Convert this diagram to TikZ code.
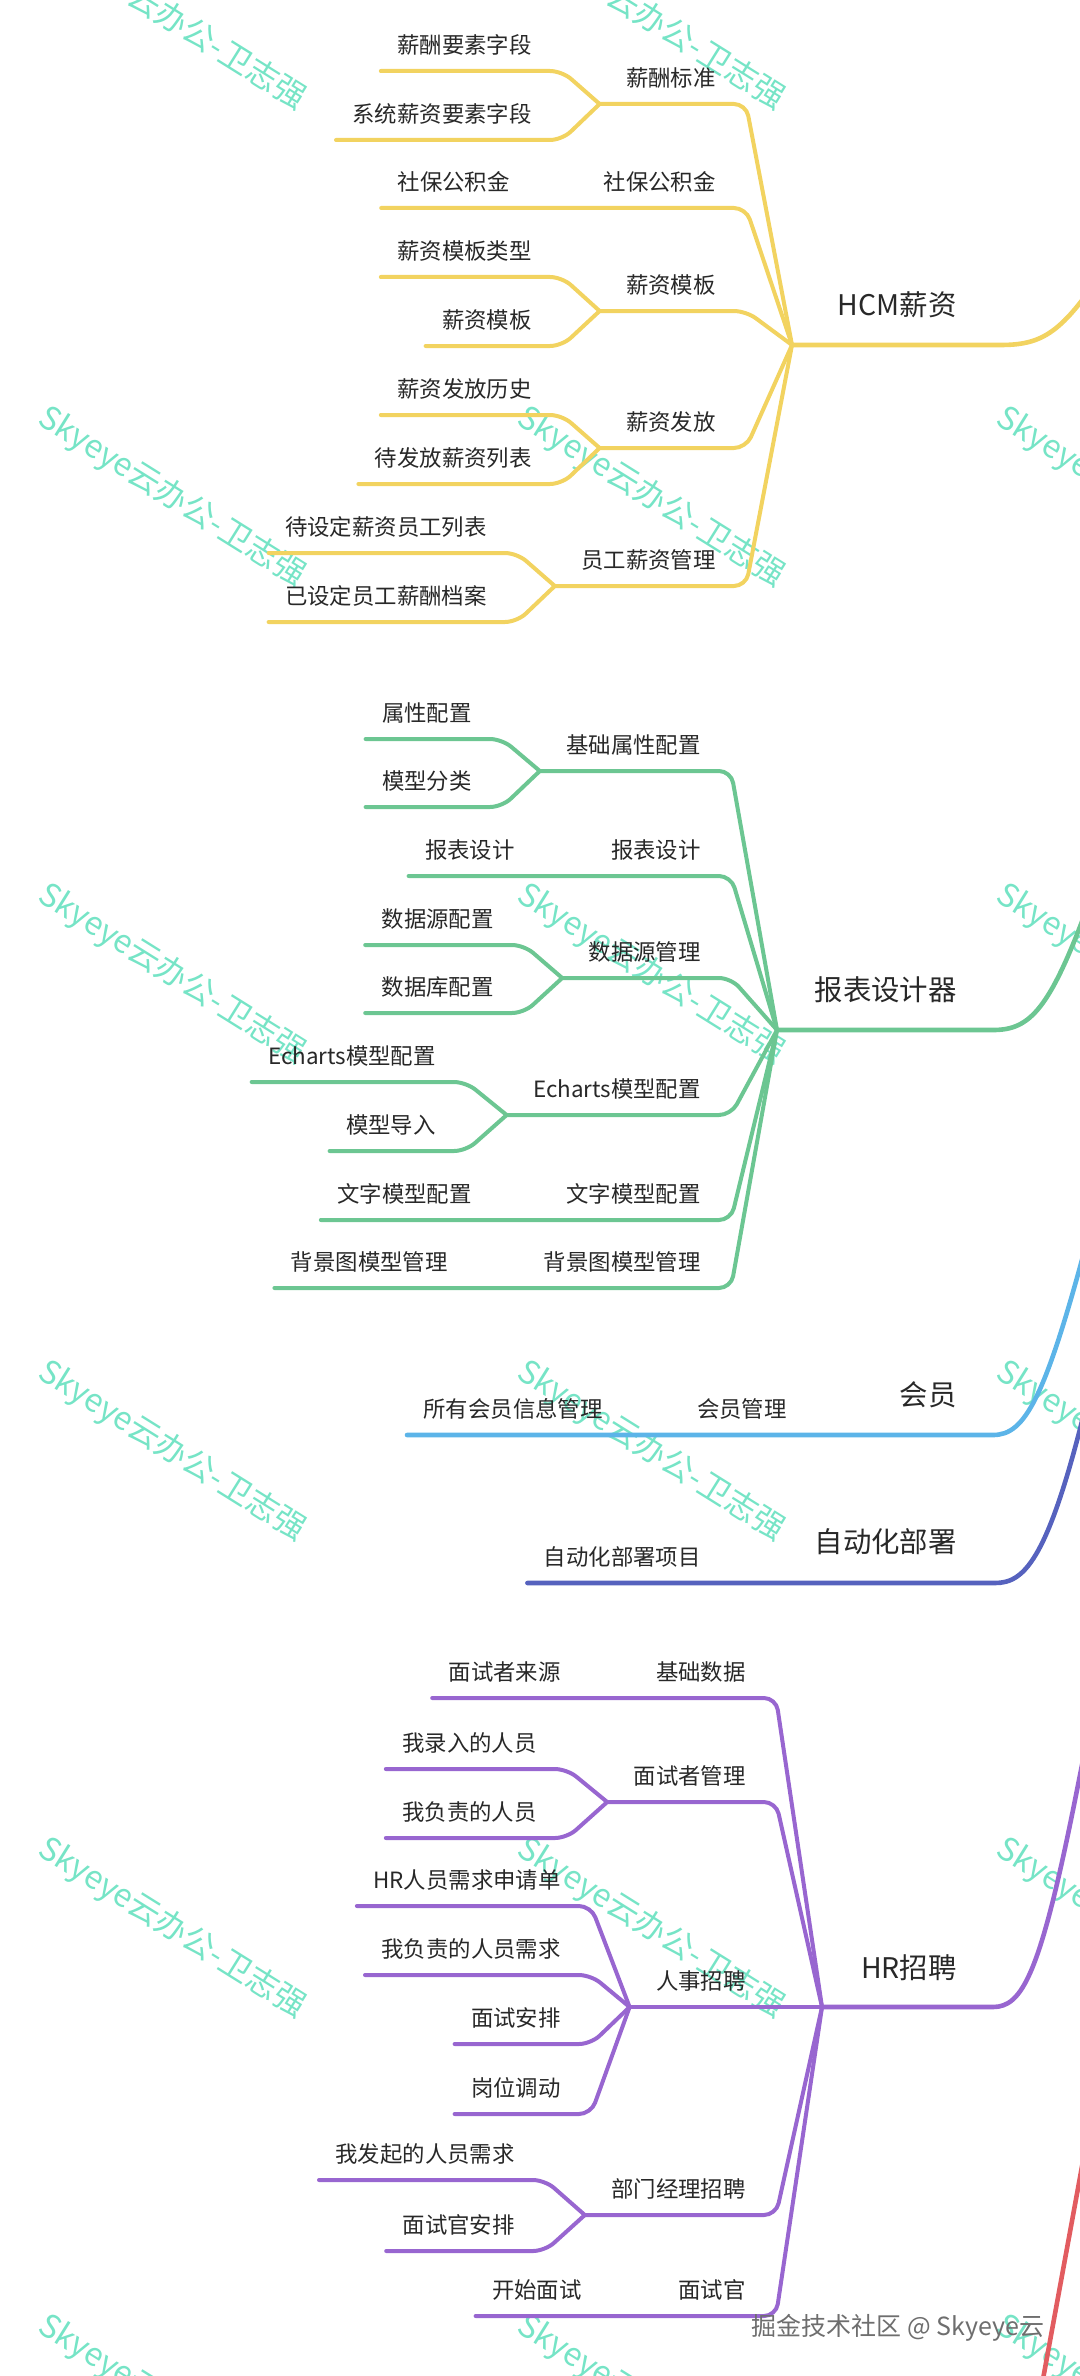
\documentclass[tikz,border=0pt]{standalone}
\usepackage{fontspec}
\setmainfont{Noto Sans CJK SC}
\usepackage{tikz}
\usetikzlibrary{calc}
\definecolor{hcmyellow}{RGB}{242,211,96}
\definecolor{rptgreen}{RGB}{108,198,146}
\definecolor{vipblue}{RGB}{92,180,232}
\definecolor{opsindigo}{RGB}{86,98,190}
\definecolor{hrpurple}{RGB}{152,102,208}
\definecolor{rootred}{RGB}{226,92,96}
\definecolor{wmmint}{RGB}{118,228,198}
\definecolor{labelink}{RGB}{40,40,40}

\begin{document}
\begin{tikzpicture}[x=0.5pt,y=-0.5pt,
    leaf/.style={anchor=east,inner sep=0pt,text=labelink,font=\fontsize{11.2}{13}\selectfont},
    topic/.style={anchor=east,inner sep=0pt,text=labelink,font=\fontsize{14.2}{17}\selectfont},
    wmark/.style={rotate=-32,inner sep=0pt,text=wmmint,font=\fontsize{16}{19}\selectfont},
    br/.style={line width=2pt,line cap=round,rounded corners=6pt},
    trunk/.style={line width=2.3pt,line cap=round}
  ]
  \useasboundingbox (0,0) rectangle (1080,2376);
  \clip (0,0) rectangle (1080,2376);

  % watermarks
  \node[wmark] (wm11) at (172,20) {Skyeye云办公-卫志强};
  \node[wmark] (wm12) at (651,20) {Skyeye云办公-卫志强};
  \node[wmark] (wm21) at (172,497) {Skyeye云办公-卫志强};
  \node[wmark] (wm22) at (651,497) {Skyeye云办公-卫志强};
  \node[wmark] (wm23) at (1130,497) {Skyeye云办公-卫志强};
  \node[wmark] (wm31) at (172,974) {Skyeye云办公-卫志强};
  \node[wmark] (wm32) at (651,974) {Skyeye云办公-卫志强};
  \node[wmark] (wm33) at (1130,974) {Skyeye云办公-卫志强};
  \node[wmark] (wm41) at (172,1451) {Skyeye云办公-卫志强};
  \node[wmark] (wm42) at (651,1451) {Skyeye云办公-卫志强};
  \node[wmark] (wm43) at (1130,1451) {Skyeye云办公-卫志强};
  \node[wmark] (wm51) at (172,1928) {Skyeye云办公-卫志强};
  \node[wmark] (wm52) at (651,1928) {Skyeye云办公-卫志强};
  \node[wmark] (wm53) at (1130,1928) {Skyeye云办公-卫志强};
  \node[wmark] (wm61) at (172,2405) {Skyeye云办公-卫志强};
  \node[wmark] (wm62) at (651,2405) {Skyeye云办公-卫志强};
  \node[wmark] (wm63) at (1130,2405) {Skyeye云办公-卫志强};

  % HCM薪资
  \coordinate (hcm) at (792,345);
  \coordinate (hcmEnd) at (1100,275);
  \node[topic] (hcmT) at (957,305) {HCM薪资};
  \draw[trunk,hcmyellow] (hcm) -- (1000,345) .. controls (1040,345) and (1060,335) .. (hcmEnd);

  \node[leaf] (xcbz) at (716,78) {薪酬标准};
  \coordinate (xcbzJ) at ([xshift=-13pt,yshift=-13pt]xcbz.west);
  \node[leaf] (xcys) at (532,45) {薪酬要素字段};
  \node[leaf] (xtys) at (532,114) {系统薪资要素字段};
  \draw[br,hcmyellow] ([xshift=-8pt,yshift=-13pt]xcys.west) -- ([xshift=15pt,yshift=-13pt]xcys.east) -- (xcbzJ);
  \draw[br,hcmyellow] ([xshift=-8pt,yshift=-13pt]xtys.west) -- ([xshift=15pt,yshift=-13pt]xtys.east) -- (xcbzJ);
  \draw[br,hcmyellow] (xcbzJ) -- ([xshift=15pt,yshift=-13pt]xcbz.east) -- (hcm);

  \node[leaf] (sbgjj) at (716,182) {社保公积金};
  \node[leaf] (sbgjjL) at (510,182) {社保公积金};
  \draw[br,hcmyellow] ([xshift=-8pt,yshift=-13pt]sbgjjL.west) -- ([xshift=15pt,yshift=-13pt]sbgjj.east) -- (hcm);

  \node[leaf] (xzmb) at (716,285) {薪资模板};
  \coordinate (xzmbJ) at ([xshift=-13pt,yshift=-13pt]xzmb.west);
  \node[leaf] (mblx) at (532,251) {薪资模板类型};
  \node[leaf] (xzmbL) at (532,320) {薪资模板};
  \draw[br,hcmyellow] ([xshift=-8pt,yshift=-13pt]mblx.west) -- ([xshift=15pt,yshift=-13pt]mblx.east) -- (xzmbJ);
  \draw[br,hcmyellow] ([xshift=-8pt,yshift=-13pt]xzmbL.west) -- ([xshift=15pt,yshift=-13pt]xzmbL.east) -- (xzmbJ);
  \draw[br,hcmyellow] (xzmbJ) -- ([xshift=15pt,yshift=-13pt]xzmb.east) -- (hcm);

  \node[leaf] (xzff) at (716,422) {薪资发放};
  \coordinate (xzffJ) at ([xshift=-13pt,yshift=-13pt]xzff.west);
  \node[leaf] (ffls) at (532,389) {薪资发放历史};
  \node[leaf] (dffl) at (532,458) {待发放薪资列表};
  \draw[br,hcmyellow] ([xshift=-8pt,yshift=-13pt]ffls.west) -- ([xshift=15pt,yshift=-13pt]ffls.east) -- (xzffJ);
  \draw[br,hcmyellow] ([xshift=-8pt,yshift=-13pt]dffl.west) -- ([xshift=15pt,yshift=-13pt]dffl.east) -- (xzffJ);
  \draw[br,hcmyellow] (xzffJ) -- ([xshift=15pt,yshift=-13pt]xzff.east) -- (hcm);

  \node[leaf] (ygxz) at (716,560) {员工薪资管理};
  \coordinate (ygxzJ) at ([xshift=-13pt,yshift=-13pt]ygxz.west);
  \node[leaf] (dsdy) at (487,527) {待设定薪资员工列表};
  \node[leaf] (ysdy) at (487,596) {已设定员工薪酬档案};
  \draw[br,hcmyellow] ([xshift=-8pt,yshift=-13pt]dsdy.west) -- ([xshift=15pt,yshift=-13pt]dsdy.east) -- (ygxzJ);
  \draw[br,hcmyellow] ([xshift=-8pt,yshift=-13pt]ysdy.west) -- ([xshift=15pt,yshift=-13pt]ysdy.east) -- (ygxzJ);
  \draw[br,hcmyellow] (ygxzJ) -- ([xshift=15pt,yshift=-13pt]ygxz.east) -- (hcm);

  % 报表设计器
  \coordinate (rpt) at (777,1030);
  \coordinate (rptEnd) at (1090,900);
  \node[topic] (rptT) at (957,990) {报表设计器};
  \draw[trunk,rptgreen] (rpt) -- (993,1030) .. controls (1030,1030) and (1050,1010) .. (rptEnd);

  \node[leaf] (jcsx) at (701,745) {基础属性配置};
  \coordinate (jcsxJ) at ([xshift=-13pt,yshift=-13pt]jcsx.west);
  \node[leaf] (sxpz) at (472,713) {属性配置};
  \node[leaf] (mxfl) at (472,781) {模型分类};
  \draw[br,rptgreen] ([xshift=-8pt,yshift=-13pt]sxpz.west) -- ([xshift=15pt,yshift=-13pt]sxpz.east) -- (jcsxJ);
  \draw[br,rptgreen] ([xshift=-8pt,yshift=-13pt]mxfl.west) -- ([xshift=15pt,yshift=-13pt]mxfl.east) -- (jcsxJ);
  \draw[br,rptgreen] (jcsxJ) -- ([xshift=15pt,yshift=-13pt]jcsx.east) -- (rpt);

  \node[leaf] (bbsj) at (701,850) {报表设计};
  \node[leaf] (bbsjL) at (515,850) {报表设计};
  \draw[br,rptgreen] ([xshift=-8pt,yshift=-13pt]bbsjL.west) -- ([xshift=15pt,yshift=-13pt]bbsj.east) -- (rpt);

  \node[leaf] (sjyg) at (701,952) {数据源管理};
  \coordinate (sjygJ) at ([xshift=-13pt,yshift=-13pt]sjyg.west);
  \node[leaf] (sjypz) at (494,919) {数据源配置};
  \node[leaf] (sjkpz) at (494,987) {数据库配置};
  \draw[br,rptgreen] ([xshift=-8pt,yshift=-13pt]sjypz.west) -- ([xshift=15pt,yshift=-13pt]sjypz.east) -- (sjygJ);
  \draw[br,rptgreen] ([xshift=-8pt,yshift=-13pt]sjkpz.west) -- ([xshift=15pt,yshift=-13pt]sjkpz.east) -- (sjygJ);
  \draw[br,rptgreen] (sjygJ) -- ([xshift=15pt,yshift=-13pt]sjyg.east) -- (rpt);

  \node[leaf] (echm) at (701,1089) {Echarts模型配置};
  \coordinate (echmJ) at ([xshift=-13pt,yshift=-13pt]echm.west);
  \node[leaf] (echmL) at (436,1056) {Echarts模型配置};
  \node[leaf] (mxdr) at (436,1125) {模型导入};
  \draw[br,rptgreen] ([xshift=-8pt,yshift=-13pt]echmL.west) -- ([xshift=15pt,yshift=-13pt]echmL.east) -- (echmJ);
  \draw[br,rptgreen] ([xshift=-8pt,yshift=-13pt]mxdr.west) -- ([xshift=15pt,yshift=-13pt]mxdr.east) -- (echmJ);
  \draw[br,rptgreen] (echmJ) -- ([xshift=15pt,yshift=-13pt]echm.east) -- (rpt);

  \node[leaf] (wzmx) at (701,1194) {文字模型配置};
  \node[leaf] (wzmxL) at (472,1194) {文字模型配置};
  \draw[br,rptgreen] ([xshift=-8pt,yshift=-13pt]wzmxL.west) -- ([xshift=15pt,yshift=-13pt]wzmx.east) -- (rpt);

  \node[leaf] (bjtm) at (701,1262) {背景图模型管理};
  \node[leaf] (bjtmL) at (448,1262) {背景图模型管理};
  \draw[br,rptgreen] ([xshift=-8pt,yshift=-13pt]bjtmL.west) -- ([xshift=15pt,yshift=-13pt]bjtm.east) -- (rpt);

  % 会员
  \coordinate (vipA) at (993,1435);
  \coordinate (vipEnd) at (1090,1230);
  \node[topic] (vipT) at (957,1395) {会员};
  \node[leaf] (hygl) at (787,1409) {会员管理};
  \node[leaf] (syhy) at (603,1409) {所有会员信息管理};
  \draw[trunk,vipblue] ([xshift=-8pt,yshift=-13pt]syhy.west) -- (vipA) .. controls (1025,1435) and (1045,1400) .. (vipEnd);

  % 自动化部署
  \coordinate (opsA) at (995,1583);
  \coordinate (opsEnd) at (1092,1380);
  \node[topic] (opsT) at (957,1542) {自动化部署};
  \node[leaf] (opsxm) at (701,1557) {自动化部署项目};
  \draw[trunk,opsindigo] ([xshift=-8pt,yshift=-13pt]opsxm.west) -- (opsA) .. controls (1025,1583) and (1050,1560) .. (opsEnd);

  % HR招聘
  \coordinate (hr) at (822,2007);
  \coordinate (hrEnd) at (1090,1725);
  \node[topic] (hrT) at (957,1968) {HR招聘};
  \draw[trunk,hrpurple] (hr) -- (993,2007) .. controls (1022,2007) and (1040,1975) .. (1075,1800) -- (hrEnd);

  \node[leaf] (jcsj) at (746,1672) {基础数据};
  \node[leaf] (mszly) at (561,1672) {面试者来源};
  \draw[br,hrpurple] ([xshift=-8pt,yshift=-13pt]mszly.west) -- ([xshift=15pt,yshift=-13pt]jcsj.east) -- (hr);

  \node[leaf] (mszgl) at (746,1776) {面试者管理};
  \coordinate (mszglJ) at ([xshift=-13pt,yshift=-13pt]mszgl.west);
  \node[leaf] (wlry) at (537,1743) {我录入的人员};
  \node[leaf] (wfzry) at (537,1812) {我负责的人员};
  \draw[br,hrpurple] ([xshift=-8pt,yshift=-13pt]wlry.west) -- ([xshift=15pt,yshift=-13pt]wlry.east) -- (mszglJ);
  \draw[br,hrpurple] ([xshift=-8pt,yshift=-13pt]wfzry.west) -- ([xshift=15pt,yshift=-13pt]wfzry.east) -- (mszglJ);
  \draw[br,hrpurple] (mszglJ) -- ([xshift=15pt,yshift=-13pt]mszgl.east) -- (hr);

  \node[leaf] (rszp) at (746,1981) {人事招聘};
  \coordinate (rszpJ) at ([xshift=-13pt,yshift=-13pt]rszp.west);
  \node[leaf] (hrxq) at (561,1880) {HR人员需求申请单};
  \node[leaf] (wfzxq) at (561,1949) {我负责的人员需求};
  \node[leaf] (msap) at (561,2018) {面试安排};
  \node[leaf] (gwdd) at (561,2088) {岗位调动};
  \draw[br,hrpurple] ([xshift=-8pt,yshift=-13pt]hrxq.west) -- ([xshift=15pt,yshift=-13pt]hrxq.east) -- (rszpJ);
  \draw[br,hrpurple] ([xshift=-8pt,yshift=-13pt]wfzxq.west) -- ([xshift=15pt,yshift=-13pt]wfzxq.east) -- (rszpJ);
  \draw[br,hrpurple] ([xshift=-8pt,yshift=-13pt]msap.west) -- ([xshift=15pt,yshift=-13pt]msap.east) -- (rszpJ);
  \draw[br,hrpurple] ([xshift=-8pt,yshift=-13pt]gwdd.west) -- ([xshift=15pt,yshift=-13pt]gwdd.east) -- (rszpJ);
  \draw[br,hrpurple] (rszpJ) -- (hr);

  \node[leaf] (bmzp) at (746,2189) {部门经理招聘};
  \coordinate (bmzpJ) at ([xshift=-13pt,yshift=-13pt]bmzp.west);
  \node[leaf] (wfqxq) at (515,2154) {我发起的人员需求};
  \node[leaf] (msgap) at (515,2225) {面试官安排};
  \draw[br,hrpurple] ([xshift=-8pt,yshift=-13pt]wfqxq.west) -- ([xshift=15pt,yshift=-13pt]wfqxq.east) -- (bmzpJ);
  \draw[br,hrpurple] ([xshift=-8pt,yshift=-13pt]msgap.west) -- ([xshift=15pt,yshift=-13pt]msgap.east) -- (bmzpJ);
  \draw[br,hrpurple] (bmzpJ) -- ([xshift=15pt,yshift=-13pt]bmzp.east) -- (hr);

  \node[leaf] (msg) at (746,2290) {面试官};
  \node[leaf] (ksms) at (582,2290) {开始面试};
  \draw[br,hrpurple] ([xshift=-8pt,yshift=-13pt]ksms.west) -- ([xshift=15pt,yshift=-13pt]msg.east) -- (hr);

  % red branch
  \coordinate (redTop) at (1085,2150);
  \coordinate (redBot) at (1041,2390);
  \draw[trunk,rootred] (redTop) -- (redBot);

  \node[inner sep=0pt,text={rgb,255:red,110;green,110;blue,110},font=\fontsize{12.5}{15}\selectfont] (juejin) at (898,2328) {掘金技术社区 @ Skyeye云};
\end{tikzpicture}
\end{document}
